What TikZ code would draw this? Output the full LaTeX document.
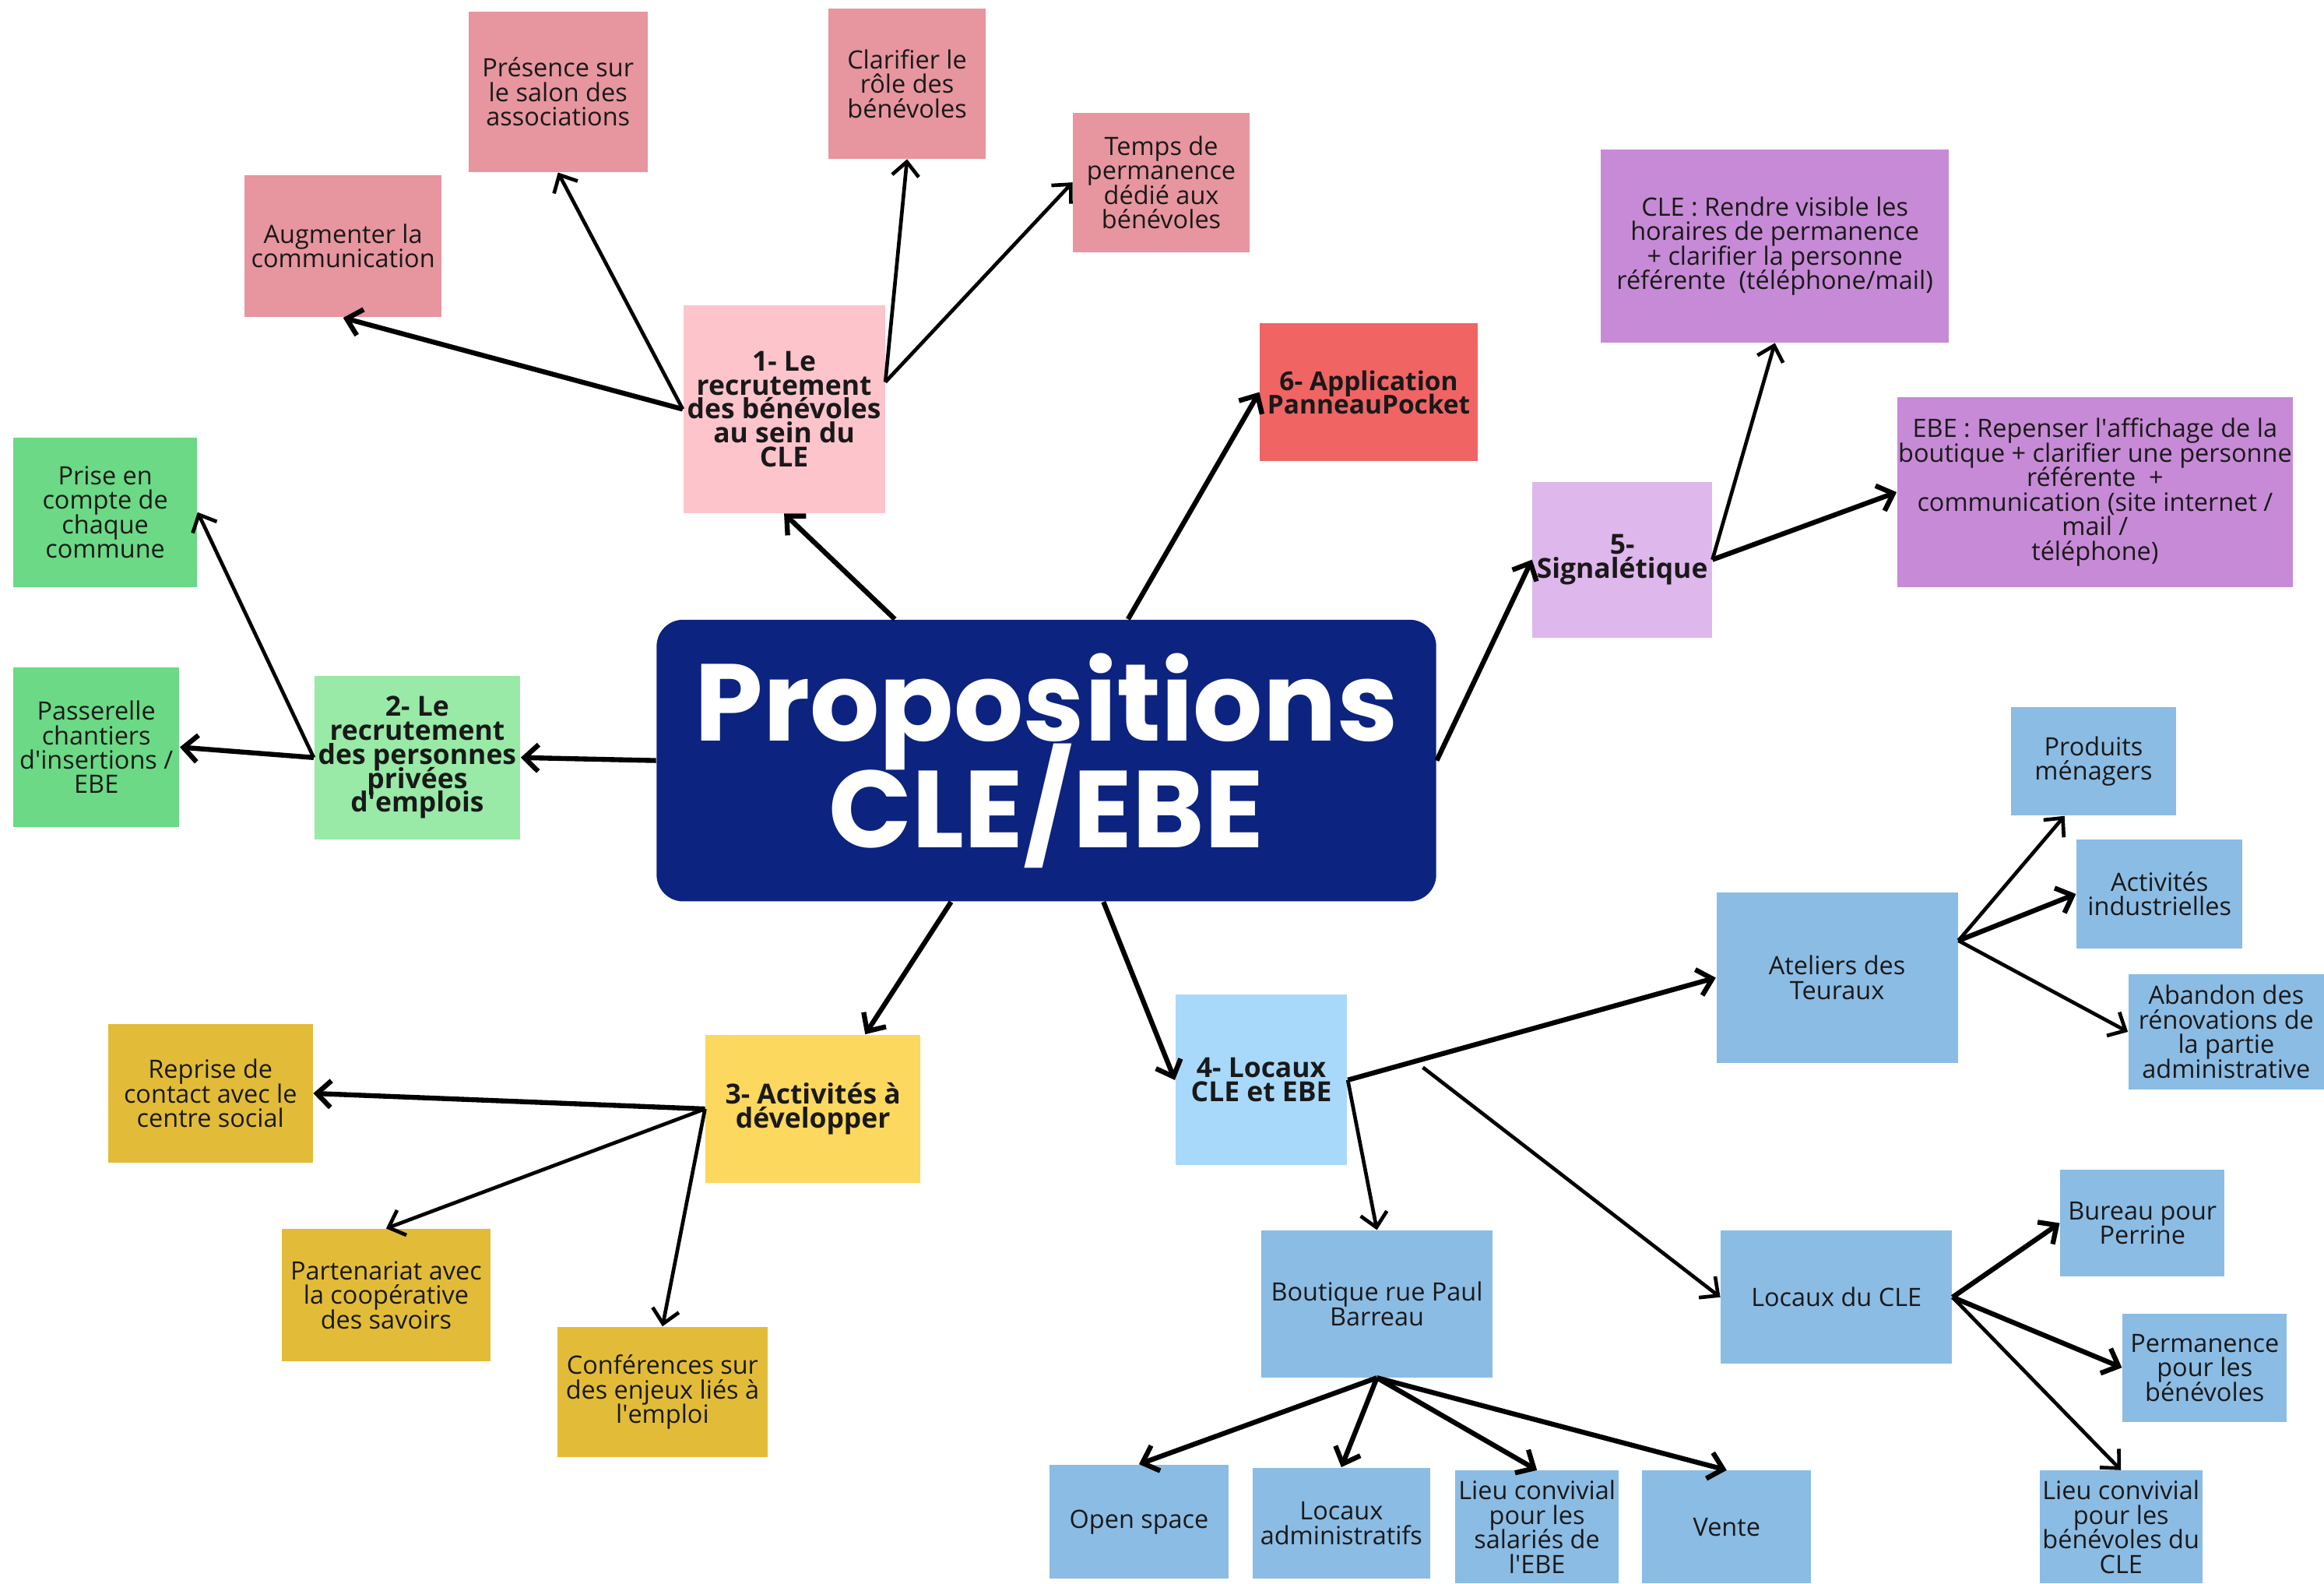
\documentclass[tikz,border=0pt]{standalone}
\usepackage{fontspec}
\setmainfont{Open Sans}
\newfontfamily\titlefont{Poppins}
\usepackage{tikz}
\usetikzlibrary{arrows.meta, positioning}
\definecolor{navy}{HTML}{0C2380}
\definecolor{pink_light}{HTML}{FDC4CC}
\definecolor{pink_dark}{HTML}{E7959F}
\definecolor{red_box}{HTML}{F06464}
\definecolor{purple_light}{HTML}{DEB7EC}
\definecolor{purple_dark}{HTML}{C78AD6}
\definecolor{green_light}{HTML}{98EAA6}
\definecolor{green_dark}{HTML}{6BD985}
\definecolor{yellow_light}{HTML}{FDD85E}
\definecolor{yellow_dark}{HTML}{E2BC38}
\definecolor{blue_light}{HTML}{A8D9FB}
\definecolor{blue_dark}{HTML}{8BBCE4}
\lineskiplimit=-30pt

\begin{document}
\begin{tikzpicture}[x=0.02cm, y=-0.02cm, >={Straight Barb[length=1.9mm, width=3.6mm]}]
	\tikzstyle{box_style}=[rectangle, inner sep=0pt, align=center, text=black!90, font=\fontsize{9.7}{9.4}\selectfont]
	\tikzstyle{theme_style}=[box_style, font=\fontsize{10.6}{9.2}\selectfont\bfseries]
	\tikzstyle{link_style}=[->, line width=1.4pt]
	\tikzstyle{bold_link_style}=[->, line width=1.9pt]
	\tikzset{wh/.style 2 args={minimum width=#1*0.02cm, minimum height=#2*0.02cm}}
	\useasboundingbox (0, 0) rectangle (1568, 1068);
	% centre
	\node at (706, 513) [rectangle, rounded corners=0.36cm, fill=navy, wh={526}{190}, text=white, align=center, font=\titlefont\fontsize{42}{41}\selectfont\bfseries] (title) {Propositions\\CLE/EBE};
	% theme 1
	\node at (529, 276) [theme_style, fill=pink_light, wh={136}{140}] (theme_1) {1- Le\\recrutement\\des bénévoles\\au sein du\\CLE};
	\node at (231.5, 166) [box_style, fill=pink_dark, wh={133}{96}] (item_1_a) {Augmenter la\\communication};
	\node at (376.5, 62) [box_style, fill=pink_dark, wh={121}{108}] (item_1_b) {Présence sur\\le salon des\\associations};
	\node at (612, 56.5) [box_style, fill=pink_dark, wh={106}{101}] (item_1_c) {Clarifier le\\rôle des\\bénévoles};
	\node at (783.5, 123) [box_style, fill=pink_dark, wh={119}{94}] (item_1_d) {Temps de\\permanence\\dédié aux\\bénévoles};
	% theme 6
	\node at (923.5, 264.5) [theme_style, fill=red_box, wh={147}{93}, font=\fontsize{10}{9}\selectfont\bfseries] (theme_6) {6- Application\\PanneauPocket};
	% theme 5
	\node at (1094.5, 377.5) [theme_style, fill=purple_light, wh={121}{105}] (theme_5) {5-\\Signalétique};
	\node at (1197.5, 166) [box_style, fill=purple_dark, wh={235}{130}] (item_5_a) {CLE : Rendre visible les\\horaires de permanence\\+ clarifier la personne\\référente~ (téléphone/mail)};
	\node at (1413.5, 332) [box_style, fill=purple_dark, wh={267}{128}] (item_5_b) {EBE : Repenser l\textquotesingle affichage de la\\boutique + clarifier une personne\\référente~ +\\communication (site internet /\\mail /\\téléphone)};
	% theme 2
	\node at (281.5, 511) [theme_style, fill=green_light, wh={139}{110}] (theme_2) {2- Le\\recrutement\\des personnes\\privées\\d\textquotesingle emplois};
	\node at (71, 345.5) [box_style, fill=green_dark, wh={124}{101}] (item_2_a) {Prise en\\compte de\\chaque\\commune};
	\node at (65, 504) [box_style, fill=green_dark, wh={112}{108}] (item_2_b) {Passerelle\\chantiers\\d\textquotesingle insertions /\\EBE};
	% theme 3
	\node at (548.5, 748) [theme_style, fill=yellow_light, wh={145}{100}] (theme_3) {3- Activités à\\développer};
	\node at (142, 737.5) [box_style, fill=yellow_dark, wh={138}{93}] (item_3_a) {Reprise de\\contact avec le\\centre social};
	\node at (260.5, 873.5) [box_style, fill=yellow_dark, wh={141}{89}] (item_3_b) {Partenariat avec\\la coopérative\\des savoirs};
	\node at (447, 939) [box_style, fill=yellow_dark, wh={142}{88}] (item_3_c) {Conférences sur\\des enjeux liés à\\l\textquotesingle emploi};
	% theme 4
	\node at (851, 728.5) [theme_style, fill=blue_light, wh={116}{115}] (theme_4) {4- Locaux\\CLE et EBE};
	\node at (1239.5, 659.5) [box_style, fill=blue_dark, wh={163}{115}] (item_4_a) {Ateliers des\\Teuraux};
	\node at (929, 879.5) [box_style, fill=blue_dark, wh={156}{99}] (item_4_b) {Boutique rue Paul\\Barreau};
	\node at (1239, 875) [box_style, fill=blue_dark, wh={156}{90}] (item_4_c) {Locaux du CLE};
	\coordinate (split_4) at (960, 720);
	% ateliers
	\node at (1412.5, 513.5) [box_style, fill=blue_dark, wh={111}{73}] (item_4_a_0) {Produits\\ménagers};
	\node at (1457, 603) [box_style, fill=blue_dark, wh={112}{74}] (item_4_a_1) {Activités\\industrielles};
	\node at (1502, 696) [box_style, fill=blue_dark, wh={132}{78}] (item_4_a_2) {Abandon des\\rénovations de\\la partie\\administrative};
	% boutique
	\node at (768.5, 1026.5) [box_style, fill=blue_dark, wh={121}{77}] (item_4_b_0) {Open space};
	\node at (905, 1027.5) [box_style, fill=blue_dark, wh={120}{75}] (item_4_b_1) {Locaux\\administratifs};
	\node at (1037, 1030) [box_style, fill=blue_dark, wh={110}{76}] (item_4_b_2) {Lieu convivial\\pour les\\salariés de\\l\textquotesingle EBE};
	\node at (1165, 1030) [box_style, fill=blue_dark, wh={114}{76}] (item_4_b_3) {Vente};
	% locaux du CLE
	\node at (1445.5, 825) [box_style, fill=blue_dark, wh={111}{72}] (item_4_c_0) {Bureau pour\\Perrine};
	\node at (1487.5, 922.5) [box_style, fill=blue_dark, wh={111}{73}] (item_4_c_1) {Permanence\\pour les\\bénévoles};
	\node at (1431, 1030) [box_style, fill=blue_dark, wh={110}{76}] (item_4_c_2) {Lieu convivial\\pour les\\bénévoles du\\CLE};
	% connect: title -> themes
	\draw[bold_link_style] (title.137) -- (theme_1.south);
	\draw[bold_link_style] (title.60) -- (theme_6.west);
	\draw[bold_link_style] (title.east) -- (theme_5.west);
	\draw[bold_link_style] (title.west) -- (theme_2.east);
	\draw[bold_link_style] (title.-124) -- (theme_3.55);
	\draw[bold_link_style] (title.-68) -- (theme_4.west);
	% connect: themes -> items
	\draw[bold_link_style] (theme_1.west) -- (item_1_a.south);
	\draw[link_style] (theme_1.west) -- (item_1_b.south);
	\foreach \c/\a in {item_1_c/south, item_1_d/west}
		\draw[link_style] (theme_1.15) -- (\c.\a);
	\draw[link_style] (theme_5.east) -- (item_5_a.south);
	\draw[bold_link_style] (theme_5.east) -- (item_5_b.west);
	\draw[link_style] (theme_2.west) -- (item_2_a.east);
	\draw[bold_link_style] (theme_2.west) -- (item_2_b.east);
	\draw[bold_link_style] (theme_3.west) -- (item_3_a.east);
	\foreach \c in {item_3_b, item_3_c}
		\draw[link_style] (theme_3.west) -- (\c.north);
	\draw[bold_link_style] (theme_4.east) -- (item_4_a.west);
	\draw[link_style] (theme_4.east) -- (item_4_b.north);
	\draw[link_style] (split_4) -- (item_4_c.west);
	% connect: sub items
	\draw[link_style] (item_4_a.17) -- (item_4_a_0.-118);
	\draw[bold_link_style] (item_4_a.17) -- (item_4_a_1.west);
	\draw[link_style] (item_4_a.17) -- (item_4_a_2.west);
	\foreach \i in {0,...,3}
		\draw[bold_link_style] (item_4_b.south) -- (item_4_b_\i.north);
	\draw[bold_link_style] (item_4_c.east) -- (item_4_c_0.west);
	\draw[bold_link_style] (item_4_c.east) -- (item_4_c_1.west);
	\draw[link_style] (item_4_c.east) -- (item_4_c_2.north);
\end{tikzpicture}
\end{document}
